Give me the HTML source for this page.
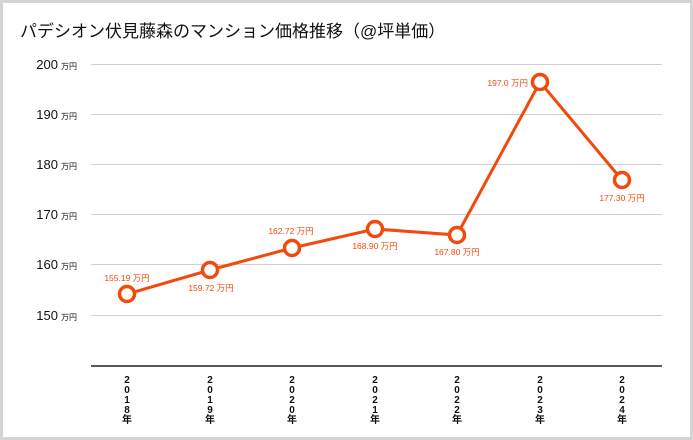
<!DOCTYPE html>
<html><head><meta charset="utf-8"><style>
body{margin:0;width:693px;height:440px;overflow:hidden;background:#fff;}
.wrap{position:absolute;left:0;top:0;width:687px;height:434px;border:3px solid #d4d4d4;background:#fff;}
svg{position:absolute;left:0;top:0}
text{font-family:"Liberation Sans","Noto Sans CJK JP",sans-serif;}
</style></head><body>
<div class="wrap"></div>
<svg width="693" height="440" viewBox="0 0 693 440">
<text x="20" y="37" font-size="17" fill="#111">パデシオン伏見藤森のマンション価格推移（@坪単価）</text>
<g stroke="#d0d0d0" stroke-width="1">
<line x1="91" y1="64.5" x2="662" y2="64.5"/><line x1="91" y1="114.5" x2="662" y2="114.5"/>
<line x1="91" y1="164.5" x2="662" y2="164.5"/><line x1="91" y1="214.5" x2="662" y2="214.5"/>
<line x1="91" y1="264.5" x2="662" y2="264.5"/><line x1="91" y1="315.5" x2="662" y2="315.5"/>
</g>
<line x1="91" y1="366" x2="662" y2="366" stroke="#222" stroke-width="1.5"/>
<g font-size="13" fill="#111" text-anchor="end">
<text x="58" y="69">200</text><text x="58" y="119">190</text><text x="58" y="169">180</text>
<text x="58" y="219">170</text><text x="58" y="269">160</text><text x="58" y="320">150</text>
</g>
<g font-size="8" fill="#111">
<text x="61" y="69">万円</text><text x="61" y="119">万円</text><text x="61" y="169">万円</text>
<text x="61" y="219">万円</text><text x="61" y="269">万円</text><text x="61" y="320">万円</text>
</g>
<polyline points="127,294 210,270 292,248 375,229 457,235 540,82 622,180" fill="none" stroke="#f24a0c" stroke-width="3"/>
<g fill="#fff" stroke="#f24a0c" stroke-width="3.5">
<circle cx="127" cy="294" r="7.5"/><circle cx="210" cy="270" r="7.5"/><circle cx="292" cy="248" r="7.5"/>
<circle cx="375" cy="229" r="7.5"/><circle cx="457" cy="235" r="7.5"/><circle cx="540" cy="82" r="7.5"/><circle cx="622" cy="180" r="7.5"/>
</g>
<g font-size="8.5" fill="#f24a0c" text-anchor="middle">
<text x="127" y="281">155.19 万円</text><text x="211" y="291">159.72 万円</text>
<text x="291" y="234">162.72 万円</text><text x="375" y="249">168.90 万円</text>
<text x="457" y="255">167.80 万円</text><text x="528" y="86" text-anchor="end">197.0 万円</text>
<text x="622" y="201">177.30 万円</text>
</g>
<g font-size="10" font-weight="bold" fill="#111" text-anchor="middle">
<text x="127" y="383">2</text><text x="127" y="393">0</text><text x="127" y="403">1</text><text x="127" y="413">8</text><text x="127" y="423">年</text>
<text x="210" y="383">2</text><text x="210" y="393">0</text><text x="210" y="403">1</text><text x="210" y="413">9</text><text x="210" y="423">年</text>
<text x="292" y="383">2</text><text x="292" y="393">0</text><text x="292" y="403">2</text><text x="292" y="413">0</text><text x="292" y="423">年</text>
<text x="375" y="383">2</text><text x="375" y="393">0</text><text x="375" y="403">2</text><text x="375" y="413">1</text><text x="375" y="423">年</text>
<text x="457" y="383">2</text><text x="457" y="393">0</text><text x="457" y="403">2</text><text x="457" y="413">2</text><text x="457" y="423">年</text>
<text x="540" y="383">2</text><text x="540" y="393">0</text><text x="540" y="403">2</text><text x="540" y="413">3</text><text x="540" y="423">年</text>
<text x="622" y="383">2</text><text x="622" y="393">0</text><text x="622" y="403">2</text><text x="622" y="413">4</text><text x="622" y="423">年</text>
</g>
</svg>
</body></html>
